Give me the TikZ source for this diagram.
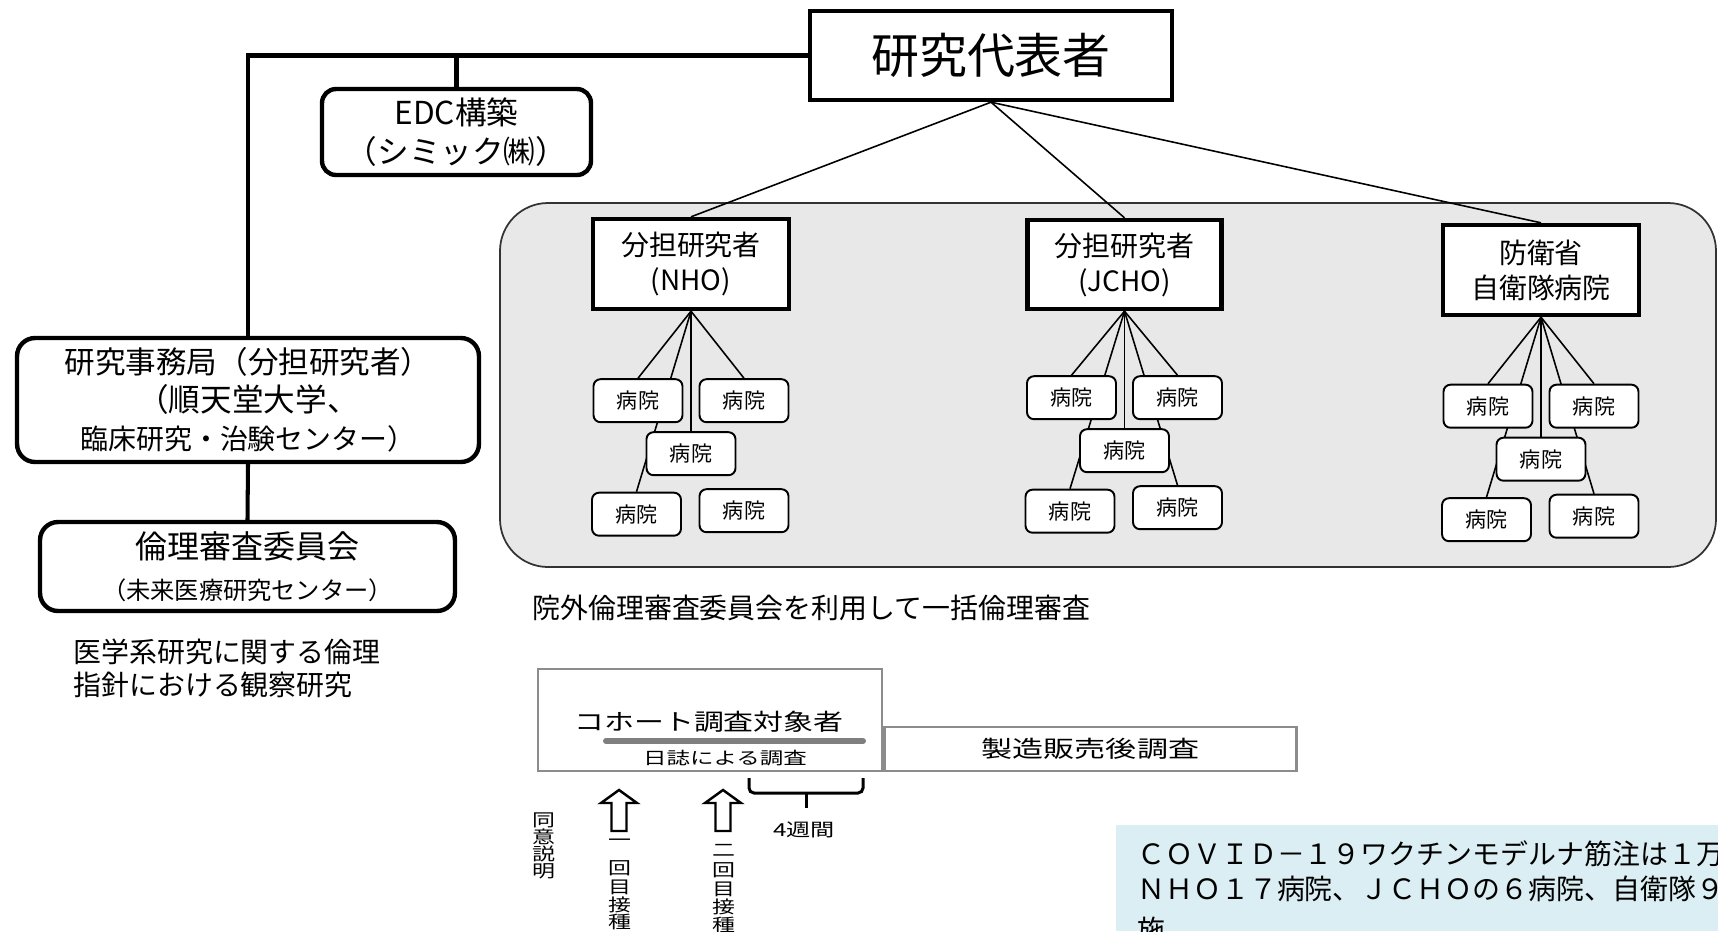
\documentclass[tikz,border=0pt]{standalone}
\usepackage{fontspec}
\usepackage{graphicx}
\setmainfont{Noto Sans CJK JP}
\newfontfamily\notefont{Noto Sans CJK JP}[CharacterWidth=Full]
\definecolor{regiongrey}{HTML}{E8E8E8}
\definecolor{framegrey}{HTML}{8C8C8C}
\definecolor{bargrey}{HTML}{7F7F7F}
\definecolor{noteblue}{HTML}{DAEEF3}
\newlength{\pxu}
\setlength{\pxu}{0.5690551pt}
\newcommand{\wide}[2][1.32]{\scalebox{#1}[1]{#2}}
\pgfdeclarelayer{back}
\pgfdeclarelayer{wires}
\pgfsetlayers{back,wires,main}

\begin{document}
\begin{tikzpicture}[x=0.02cm, y=-0.02cm,
  headbox/.style={draw, line width=2.5pt, fill=white, inner sep=0pt, align=center},
  leadbox/.style={headbox, minimum width=196\pxu, minimum height=90\pxu, font=\fontsize{15.9}{19.9}\selectfont},
  hosp/.style={draw, line width=1.1pt, fill=white, rounded corners=7\pxu, minimum width=89\pxu, minimum height=43\pxu, inner sep=0pt, font=\fontsize{12}{14}\selectfont},
  wire/.style={line width=0.9pt},
  trunk/.style={line width=2.3pt},
  region/.style={draw=black!80, line width=1pt, fill=regiongrey, rounded corners=48\pxu},
  survey/.style={draw=framegrey, line width=1.4pt, inner sep=0pt},
  txt/.style={inner sep=0pt},
  vchar/.style={inner sep=0pt, font=\fontsize{9.9}{10}\selectfont},
  hollow/.style={draw, fill=white, line width=1.4pt, line join=miter},
  note/.style={inner sep=0pt, font=\notefont\fontsize{15.9}{19.9}\selectfont}]
  \useasboundingbox (0,0) rectangle (1718,931);

  % top of the organisation
  \node[headbox, minimum width=362\pxu, minimum height=89\pxu, font=\fontsize{27.3}{30}\selectfont] (rep) at (991,55.5) {研究代表者};
  \node[headbox, rounded corners=14\pxu, minimum width=269\pxu, minimum height=86\pxu, font=\fontsize{18}{22.2}\selectfont] (edc) at (456.5,132) {EDC構築\\（シミック㈱）};
  \node[headbox, rounded corners=18\pxu, minimum width=462\pxu, minimum height=124\pxu, font=\fontsize{17.4}{21.6}\selectfont] (office) at (248,400)
    {研究事務局（分担研究者）\\{\fontsize{18}{21.6}\selectfont（順天堂大学、\hspace*{20\pxu}}\\{\fontsize{15.9}{21.6}\selectfont 臨床研究・治験センター）}};
  \node[headbox, rounded corners=18\pxu, minimum width=415\pxu, minimum height=89\pxu, font=\fontsize{18.2}{23.3}\selectfont] (ethics) at (247.5,566.5)
    {倫理審査委員会\\{\fontsize{13.8}{23.3}\selectfont（未来医療研究センター）}};
  \node[txt, anchor=west, align=left, font=\fontsize{15.9}{18.8}\selectfont] (guideline) at (73,668.5) {医学系研究に関する倫理\\指針における観察研究};

  \draw[trunk] (rep.west) -| (office.north);
  \draw[trunk] (edc.north) -- (edc.north |- rep.west);
  \draw[trunk] (office.south) -- (ethics.north);

  % grey area with the three sites
  \begin{pgfonlayer}{back}
    \draw[region] (500,203) rectangle (1716,567);
  \end{pgfonlayer}
  \node[leadbox] (nho) at (691,264) {分担研究者\\(NHO)};
  \node[leadbox, minimum width=194\pxu, minimum height=89\pxu] (jcho) at (1124.5,264.5) {分担研究者\\(JCHO)};
  \node[leadbox] (sdf) at (1541,270) {防衛省\\自衛隊病院};
  \begin{pgfonlayer}{wires}
    \foreach \g in {nho,jcho,sdf} \draw[wire] (rep.south) -- (\g.north);
  \end{pgfonlayer}

  \foreach \g/\a in {nho/89.5, jcho/86.5, sdf/89} {
    \node[hosp] (\g1) at ([shift={(-53,\a)}]\g.south) {病院};
    \node[hosp] (\g2) at ([shift={(53,\a)}]\g.south) {病院};
    \node[hosp] (\g3) at ([shift={(0,\a+53)}]\g.south) {病院};
    \node[hosp] (\g4) at ([shift={(-54.5,\a+113.5)}]\g.south) {病院};
    \node[hosp] (\g5) at ([shift={(53,\a+110)}]\g.south) {病院};
    \begin{pgfonlayer}{wires}
      \foreach \k in {1,...,4} \draw[wire] (\g.south) -- (\g\k.north);
    \end{pgfonlayer}
  }
  \begin{pgfonlayer}{wires}
    \draw[wire] (jcho.south) -- (jcho5.north);
    \draw[wire] (sdf.south) -- (sdf5.north);
  \end{pgfonlayer}
  \node[txt, anchor=west, font=\fontsize{15.9}{18}\selectfont] (bulk) at (532,608) {院外倫理審査委員会を利用して一括倫理審査};

  % schedule of the survey
  \node[survey, minimum width=344\pxu, minimum height=102\pxu] (cohort) at (710,720) {};
  \node[txt, font=\fontsize{13.1}{15}\selectfont] (cohortname) at (709,722) {\wide[1.3]{コホート調査対象者}};
  \draw[bargrey, line width=3.4pt, line cap=round] (606,741) -- (863,741);
  \node[txt, font=\fontsize{9.7}{11}\selectfont] (diary) at (725,758) {\wide[1.38]{日誌による調査}};
  \node[survey, anchor=south west, minimum width=412\pxu, minimum height=44\pxu, font=\fontsize{13.1}{15}\selectfont] (pms) at (cohort.south east) {\wide[1.35]{製造販売後調査}};

  \draw[line width=1.7pt, rounded corners=5\pxu] (749,778) |- (806,793) -| (863,778);
  \draw[line width=1.7pt] (806,793) -- (806,808);
  \node[txt, font=\fontsize{10.2}{12}\selectfont] (weeks) at (804,830) {\wide[1.35]{4週間}};

  \foreach \c in {619,723}
    \draw[hollow] (\c-7.5,831) -- (\c-7.5,803) -- (\c-18,803) -- (\c,790) -- (\c+18,803) -- (\c+7.5,803) -- (\c+7.5,831) -- cycle;
  \foreach \ch [count=\i] in {同,意,説,明} \node[vchar] (agree\i) at (544,803+17*\i) {\wide{\ch}};
  \foreach \ch/\yy [count=\i] in {一/843,回/868,目/887,接/905,種/922} \node[vchar] (firstdose\i) at (620,\yy) {\wide{\ch}};
  \foreach \ch/\yy [count=\i] in {二/850,回/870,目/889,接/907,種/925} \node[vchar] (seconddose\i) at (724,\yy) {\wide{\ch}};

  % note, cut at the edge
  \begin{scope}
    \clip (1116,825) rectangle (1718,931);
    \fill[noteblue] (1116,825) rectangle (1718,931);
    \node[note, anchor=base west] (note1) at (1137,864) {COVID-19ワクチンモデルナ筋注は1万};
    \node[note, anchor=base west] (note2) at (1137,899) {NHO17病院、JCHOの6病院、自衛隊9};
    \node[note, anchor=base west] (note3) at (1137,940) {施};
  \end{scope}
\end{tikzpicture}
\end{document}
